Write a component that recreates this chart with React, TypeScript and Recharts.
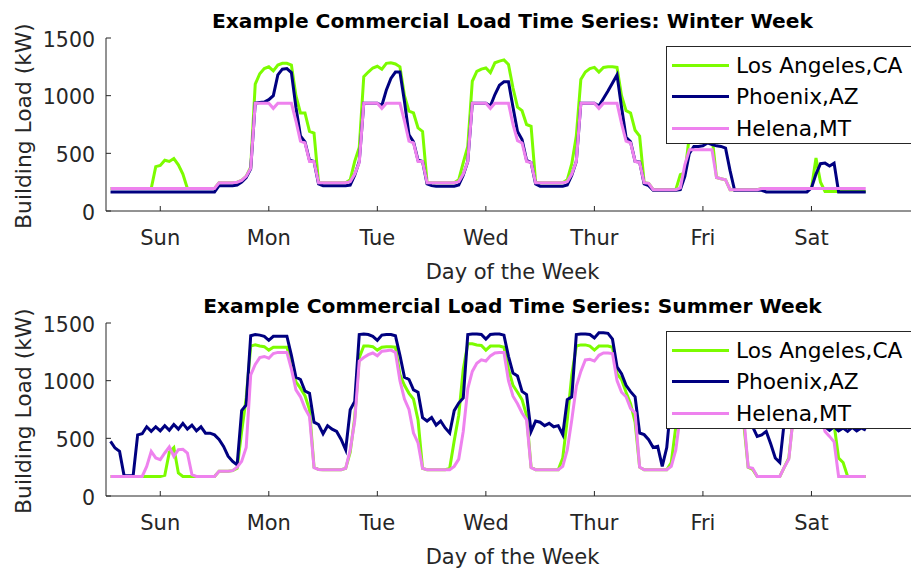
import { LineChart, Line, XAxis, YAxis, Legend } from "recharts";

// hourly building load (kW), hour 1..168, Sunday through Saturday
const winterLA = [
  195, 195, 195, 195, 195, 195, 195, 195, 195, 195, 385, 395, 440, 430, 455, 400, 320, 195, 195, 195, 195, 195, 195, 195,
  245, 245, 245, 245, 250, 265, 300, 380, 1100, 1190, 1235, 1250, 1215, 1265, 1280, 1280, 1265, 1000, 850, 850, 690, 676, 245, 245,
  245, 245, 245, 245, 245, 270, 430, 550, 1165, 1205, 1240, 1255, 1230, 1280, 1285, 1275, 1250, 1000, 865, 850, 720, 690, 245, 245,
  245, 245, 245, 245, 245, 270, 420, 560, 1125, 1210, 1230, 1240, 1200, 1285, 1300, 1310, 1270, 1066, 900, 870, 750, 735, 250, 245,
  245, 245, 245, 245, 245, 270, 410, 650, 1140, 1205, 1235, 1245, 1205, 1245, 1250, 1250, 1245, 1000, 870, 850, 700, 650, 245, 240,
  185, 185, 185, 185, 185, 185, 315, 330, 650, 690, 700, 690, 680, 650, 290, 280, 270, 185, 185, 185, 185, 185, 185, 185,
  195, 195, 195, 195, 195, 195, 195, 195, 195, 195, 195, 195, 460, 250, 170, 170, 170, 170, 170, 170, 170, 170, 170, 170,
];
const winterPHX = [
  165, 165, 165, 165, 165, 165, 165, 165, 165, 165, 165, 165, 165, 165, 165, 165, 165, 165, 165, 165, 165, 165, 165, 165,
  220, 220, 220, 220, 225, 250, 290, 365, 935, 940, 945, 965, 1000, 1180, 1230, 1235, 1200, 900, 650, 600, 440, 430, 235, 220,
  220, 220, 220, 220, 220, 225, 310, 430, 935, 935, 935, 935, 915, 1050, 1150, 1205, 1205, 950, 660, 600, 440, 430, 235, 220,
  215, 215, 215, 215, 215, 225, 310, 430, 935, 935, 935, 935, 910, 1010, 1090, 1120, 1120, 900, 690, 620, 440, 420, 235, 215,
  215, 215, 215, 215, 215, 225, 310, 430, 935, 935, 935, 935, 910, 975, 1040, 1110, 1180, 900, 640, 600, 430, 425, 235, 220,
  180, 180, 180, 180, 180, 180, 185, 300, 500, 560, 560, 565, 590, 575, 565, 560, 545, 350, 180, 180, 180, 180, 180, 180,
  180, 165, 165, 165, 165, 165, 165, 165, 165, 165, 165, 200, 320, 410, 415, 390, 415, 165, 165, 165, 165, 165, 165, 165,
];
const winterHEL = [
  195, 195, 195, 195, 195, 195, 195, 195, 195, 195, 195, 195, 195, 195, 195, 195, 195, 195, 195, 195, 195, 195, 195, 195,
  245, 245, 245, 245, 250, 265, 300, 370, 935, 935, 935, 935, 890, 935, 935, 935, 935, 780, 605, 590, 430, 430, 245, 245,
  245, 245, 245, 245, 245, 255, 320, 420, 935, 935, 935, 935, 890, 935, 935, 935, 935, 780, 605, 590, 430, 430, 245, 245,
  245, 245, 245, 245, 245, 255, 320, 430, 935, 935, 935, 935, 890, 935, 935, 935, 935, 750, 610, 590, 430, 420, 245, 245,
  245, 245, 245, 245, 245, 255, 320, 430, 935, 935, 935, 935, 890, 935, 935, 935, 935, 760, 605, 590, 430, 420, 245, 240,
  185, 185, 185, 185, 185, 185, 200, 400, 530, 530, 530, 530, 530, 530, 290, 280, 270, 185, 185, 185, 185, 185, 185, 185,
  195, 195, 195, 195, 195, 195, 195, 195, 195, 195, 195, 195, 195, 195, 195, 195, 195, 195, 195, 195, 195, 195, 195, 195,
];

const summerLA = [
  170, 170, 170, 170, 170, 170, 170, 170, 170, 170, 170, 170, 180, 380, 420, 200, 170, 170, 170, 170, 170, 170, 170, 170,
  215, 215, 215, 220, 240, 560, 850, 1300, 1310, 1300, 1295, 1265, 1290, 1290, 1290, 1290, 1150, 990, 935, 870, 750, 250, 230, 228,
  228, 228, 228, 228, 240, 380, 680, 1200, 1300, 1300, 1295, 1265, 1290, 1295, 1295, 1290, 1050, 960, 890, 840, 660, 240, 228, 228,
  228, 228, 228, 240, 480, 700, 1100, 1320, 1320, 1310, 1305, 1265, 1300, 1300, 1300, 1290, 1100, 960, 900, 835, 700, 250, 228, 228,
  228, 228, 228, 228, 330, 660, 1050, 1300, 1310, 1310, 1300, 1265, 1300, 1300, 1300, 1290, 1060, 1010, 900, 800, 640, 250, 228, 228,
  228, 228, 228, 228, 290, 600, 1050, 1300, 1310, 1310, 1300, 1265, 1300, 1300, 1300, 1290, 1060, 1010, 900, 800, 640, 250, 230, 170,
  170, 170, 170, 170, 170, 250, 330, 700, 900, 1000, 1050, 1000, 950, 900, 800, 700, 620, 330, 290, 170, 170, 170, 170, 170,
];
const summerPHX = [
  474, 416, 387, 175, 175, 175, 530, 540, 600, 560, 600, 565, 610, 570, 620, 580, 630, 580, 615, 565, 600, 545, 545, 530,
  490, 430, 345, 300, 270, 740, 790, 1390, 1400, 1395, 1385, 1350, 1385, 1385, 1385, 1385, 1220, 1030, 1010, 910, 890, 640, 620, 540,
  610, 580, 560, 490, 400, 748, 820, 1400, 1405, 1400, 1385, 1350, 1395, 1400, 1400, 1390, 1220, 1030, 1010, 920, 900, 680, 650, 680,
  615, 650, 590, 546, 740, 806, 850, 1400, 1405, 1405, 1400, 1360, 1400, 1405, 1405, 1395, 1211, 1066, 1040, 907, 880, 560, 650, 640,
  610, 630, 600, 610, 532, 835, 860, 1400, 1405, 1405, 1400, 1370, 1415, 1415, 1410, 1360, 1120, 1060, 960, 905, 860, 546, 532, 488,
  420, 430, 257, 420, 840, 870, 1400, 1405, 1405, 1400, 1395, 1360, 1405, 1410, 1400, 1390, 1210, 1060, 1040, 910, 880, 640, 600, 517,
  530, 560, 450, 330, 290, 650, 800, 1100, 1250, 1300, 1250, 1100, 900, 620, 600, 570, 600, 565, 590, 560, 595, 565, 590, 570,
];
const summerHEL = [
  170, 170, 170, 170, 170, 170, 170, 170, 257, 387, 330, 315, 373, 425, 344, 402, 405, 373, 185, 170, 170, 170, 170, 170,
  215, 215, 215, 220, 250, 300, 420, 1050, 1140, 1200, 1210, 1195, 1235, 1245, 1245, 1245, 1100, 920, 860, 760, 690, 245, 230, 228,
  228, 228, 228, 228, 240, 400, 650, 1170, 1200, 1225, 1240, 1215, 1255, 1260, 1265, 1245, 1000, 840, 750, 546, 460, 240, 228, 228,
  228, 228, 228, 228, 257, 320, 560, 930, 1080, 1150, 1180, 1170, 1215, 1240, 1245, 1245, 1000, 865, 800, 720, 660, 245, 228, 228,
  228, 228, 228, 228, 257, 400, 660, 950, 1080, 1180, 1185, 1170, 1220, 1240, 1240, 1235, 1000, 900, 860, 760, 720, 250, 228, 228,
  228, 228, 228, 228, 257, 400, 700, 950, 1080, 1180, 1200, 1190, 1230, 1240, 1240, 1235, 1000, 900, 860, 760, 700, 250, 240, 170,
  170, 170, 170, 170, 170, 250, 320, 700, 850, 950, 1000, 1000, 900, 700, 560, 517, 470, 170, 170, 170, 170, 170, 170, 170,
];

const dayTicks = [12, 36, 60, 84, 108, 132, 156];
const dayLabels = ["Sun", "Mon", "Tue", "Wed", "Thur", "Fri", "Sat"];
const loadTicks = [0, 500, 1000, 1500];

const series = [
  { key: "la", name: "Los Angeles,CA", color: "#7cfc00" },
  { key: "phx", name: "Phoenix,AZ", color: "#000080" },
  { key: "hel", name: "Helena,MT", color: "#ee82ee" },
];

const FONT = '"DejaVu Sans", Verdana, sans-serif';
const INK = "#262626";

function toRows(la: number[], phx: number[], hel: number[]) {
  return la.map((v, i) => ({ hour: i + 1, la: v, phx: phx[i], hel: hel[i] }));
}

const winterRows = toRows(winterLA, winterPHX, winterHEL);
const summerRows = toRows(summerLA, summerPHX, summerHEL);

function BottomTick(props: any) {
  const { x, y, payload } = props;
  const label = dayLabels[dayTicks.indexOf(payload.value)];
  return (
    <g>
      <line x1={x} x2={x} y1={y} y2={y - 5} stroke={INK} />
      <text x={x} y={y + 34} textAnchor="middle" fill={INK} fontSize={21} fontFamily={FONT}>
        {label}
      </text>
    </g>
  );
}

function TopTick(props: any) {
  const { x, y } = props;
  return <line x1={x} x2={x} y1={y} y2={y + 5} stroke={INK} />;
}

function LeftTick(props: any) {
  const { x, y, payload } = props;
  return (
    <g>
      <line x1={x} x2={x + 5} y1={y} y2={y} stroke={INK} />
      <text x={x - 11} y={y + 8.5} textAnchor="end" fill={INK} fontSize={20.5} fontFamily={FONT}>
        {payload.value}
      </text>
    </g>
  );
}

function LegendBox() {
  return (
    <div
      style={{
        position: "relative",
        width: 260,
        height: 98,
        boxSizing: "border-box",
        border: `1px solid ${INK}`,
        background: "#fff",
        fontFamily: FONT,
      }}
    >
      {series.map((s, i) => (
        <div
          key={s.key}
          style={{ position: "absolute", left: 0, top: 3 + i * 31.7, height: 30, display: "flex", alignItems: "center" }}
        >
          <span style={{ display: "inline-block", marginLeft: 5, width: 57, height: 3, background: s.color }} />
          <span style={{ marginLeft: 7, fontSize: 21.7, color: "#000", whiteSpace: "nowrap" }}>{s.name}</span>
        </div>
      ))}
    </div>
  );
}

function Panel({ rows }: { rows: any[] }) {
  return (
    <LineChart width={940} height={285} data={rows} margin={{ top: 38, right: 20, bottom: 0, left: 0 }}>
      <XAxis
        dataKey="hour"
        type="number"
        domain={[0, 180]}
        ticks={dayTicks}
        height={74}
        tickSize={0}
        tickMargin={0}
        tickLine={false}
        tick={BottomTick}
        axisLine={{ stroke: INK }}
        interval={0}
      />
      <XAxis
        xAxisId="top"
        orientation="top"
        dataKey="hour"
        type="number"
        domain={[0, 180]}
        ticks={dayTicks}
        height={0}
        tickSize={0}
        tickMargin={0}
        tickLine={false}
        tick={TopTick}
        axisLine={{ stroke: INK }}
        interval={0}
      />
      <YAxis
        type="number"
        domain={[0, 1500]}
        ticks={loadTicks}
        width={106}
        tickSize={0}
        tickMargin={0}
        tickLine={false}
        tick={LeftTick}
        axisLine={{ stroke: INK }}
        interval={0}
      />
      <Legend
        layout="vertical"
        align="center"
        verticalAlign="middle"
        content={() => <LegendBox />}
        wrapperStyle={{ left: 666, top: 46, width: 260, height: 98 }}
      />
      {series.map((s) => (
        <Line
          key={s.key}
          type="linear"
          dataKey={s.key}
          name={s.name}
          stroke={s.color}
          strokeWidth={3}
          dot={false}
          activeDot={false}
          isAnimationActive={false}
        />
      ))}
    </LineChart>
  );
}

const panels = [
  { title: "Example Commercial Load Time Series: Winter Week", rows: winterRows, top: 0 },
  { title: "Example Commercial Load Time Series: Summer Week", rows: summerRows, top: 285 },
];

export default function App() {
  return (
    <div
      style={{
        position: "absolute",
        left: 0,
        top: 0,
        width: 911,
        height: 571,
        overflow: "hidden",
        background: "#fff",
      }}
    >
      {panels.map((p) => (
        <div key={p.title} style={{ position: "absolute", left: 0, top: p.top }}>
          <Panel rows={p.rows} />
        </div>
      ))}
      <svg width={911} height={571} style={{ position: "absolute", left: 0, top: 0, pointerEvents: "none" }}>
        {panels.map((p) => (
          <g key={p.title} transform={`translate(0, ${p.top})`} fontFamily={FONT}>
            <text x={512.5} y={27.5} textAnchor="middle" fontSize={20.2} fontWeight="bold" fill="#000">
              {p.title}
            </text>
            <text x={512.5} y={278.5} textAnchor="middle" fontSize={21} fill={INK}>
              Day of the Week
            </text>
            <text transform="translate(31, 126) rotate(-90)" textAnchor="middle" fontSize={21.8} fill={INK}>
              Building Load (kW)
            </text>
          </g>
        ))}
      </svg>
    </div>
  );
}
